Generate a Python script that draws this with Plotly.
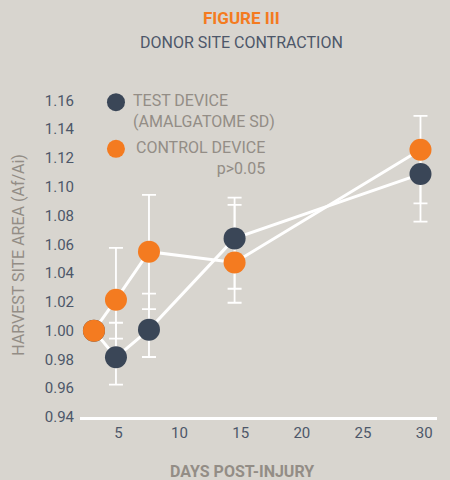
import plotly.graph_objects as go

# ---- data ----
days = [3.0, 4.8, 7.5, 14.5, 29.7]
test_vals = [1.000, 0.9815, 1.0007, 1.0641, 1.1088]
test_err_plus = [0.0, 0.024, 0.025, 0.0284, 0.020]
test_err_minus = [0.0, 0.019, 0.019, 0.035, 0.033]
ctrl_vals = [1.000, 1.0215, 1.0549, 1.0474, 1.1257]
ctrl_err_plus = [0.0, 0.036, 0.0395, 0.040, 0.0236]
ctrl_err_minus = [0.0, 0.027, 0.040, 0.028, 0.0373]
y_ticks = [0.94, 0.96, 0.98, 1.00, 1.02, 1.04, 1.06, 1.08, 1.10, 1.12, 1.14, 1.16]

BG = "#d8d5cf"
ORANGE = "#f47b20"
DARK = "#3a4657"
SLATE = "#4d5769"
GRAY = "#938d86"
FONT = "Roboto"

fig = go.Figure()

# error bars (behind everything)
for vals, ep, em in [(test_vals, test_err_plus, test_err_minus),
                     (ctrl_vals, ctrl_err_plus, ctrl_err_minus)]:
    fig.add_trace(go.Scatter(
        x=days, y=vals, mode="markers",
        marker=dict(size=1, color="rgba(0,0,0,0)"),
        error_y=dict(type="data", symmetric=False, array=ep, arrayminus=em,
                     color="white", thickness=1.8, width=7),
        showlegend=False, hoverinfo="skip"))

# lines
for vals in [test_vals, ctrl_vals]:
    fig.add_trace(go.Scatter(
        x=days, y=vals, mode="lines",
        line=dict(color="white", width=3),
        showlegend=False, hoverinfo="skip"))

# markers
fig.add_trace(go.Scatter(x=days, y=test_vals, mode="markers",
                         marker=dict(size=22, color=DARK), name="TEST DEVICE",
                         showlegend=False))
fig.add_trace(go.Scatter(x=days, y=ctrl_vals, mode="markers",
                         marker=dict(size=22, color=ORANGE), name="CONTROL DEVICE",
                         showlegend=False))

L, R, T, B = 80, 12.7, 85.5, 63.3
W, H = 450, 480
pw, ph = W - L - R, H - T - B


def px(xp):
    return (xp - L) / pw


def py(yp):
    return (H - B - yp) / ph


# legend circles
for yc, col in [(101.7, DARK), (148.3, ORANGE)]:
    fig.add_shape(type="circle", xref="paper", yref="paper",
                  xsizemode="pixel", ysizemode="pixel",
                  xanchor=px(116), yanchor=py(yc),
                  x0=-9, x1=9, y0=-9, y1=9,
                  fillcolor=col, line=dict(width=0))

annotations = [
    dict(text="<b>FIGURE III</b>", x=px(242), y=py(17.3), xanchor="center", yanchor="middle",
         font=dict(color=ORANGE, size=17, family=FONT)),
    dict(text="DONOR SITE CONTRACTION", x=px(242), y=py(41.7), xanchor="center", yanchor="middle",
         font=dict(color=SLATE, size=16, family=FONT)),
    dict(text="TEST DEVICE<br>(AMALGATOME SD)", x=px(131), y=py(110.5), xanchor="left",
         yanchor="middle", align="left", font=dict(color=GRAY, size=16, family=FONT)),
    dict(text="CONTROL DEVICE<br>p>0.05", x=px(267), y=py(158), xanchor="right",
         yanchor="middle", align="right", font=dict(color=GRAY, size=16, family=FONT)),
    dict(text="<b>DAYS POST-INJURY</b>", x=px(242.5), y=py(471), xanchor="center",
         yanchor="middle", font=dict(color=GRAY, size=16, family=FONT)),
    dict(text="HARVEST SITE AREA (Af/Ai)", x=px(18.3), y=py(254), xanchor="center",
         yanchor="middle", textangle=-90, font=dict(color=GRAY, size=16, family=FONT)),
]
for a in annotations:
    a.update(xref="paper", yref="paper", showarrow=False)

fig.update_layout(
    width=W, height=H,
    margin=dict(l=L, r=R, t=T, b=B),
    paper_bgcolor=BG, plot_bgcolor=BG,
    annotations=annotations,
    showlegend=False,
    font=dict(family=FONT, color=SLATE, size=15),
)
fig.update_xaxes(range=[1.86, 31.05], tick0=0, dtick=5,
                 showgrid=False, zeroline=False,
                 showline=True, linecolor="white", linewidth=2.5, ticks="",
                 tickfont=dict(color=SLATE, size=15, family=FONT))
fig.update_yaxes(range=[0.94, 1.17], tickvals=y_ticks, tickformat=".2f", showgrid=False,
                 zeroline=False, showline=False, ticks="", ticklabelstandoff=5,
                 tickfont=dict(color=SLATE, size=15, family=FONT))

fig.write_html(
    "out.html",
    config={"displayModeBar": False},
    post_script="document.body.style.margin='0';document.body.style.background='#d8d5cf';",
)
